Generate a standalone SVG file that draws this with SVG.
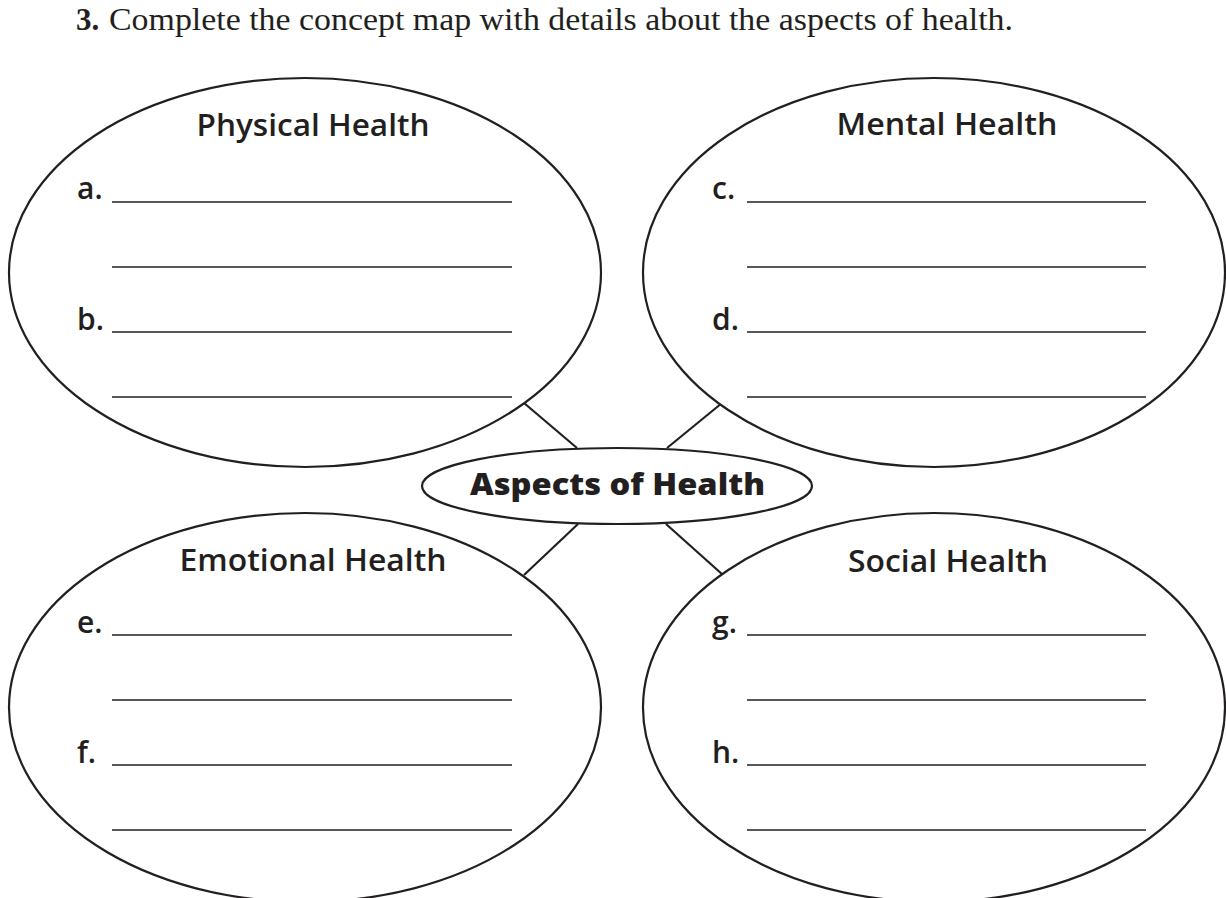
<svg xmlns="http://www.w3.org/2000/svg" width="1226" height="898" viewBox="0 0 1226 898">
  <style>
    .bg { fill: #ffffff; }
    .oval { fill: #ffffff; stroke: #231f20; stroke-width: 2.2; }
    .conn { stroke: #231f20; stroke-width: 2.2; fill: none; }
    .blank { stroke: #231f20; stroke-width: 1.6; }
    .head { font-family: "Open Sans", "Liberation Sans", sans-serif; font-weight: 600; font-size: 31px; fill: #231f20; text-anchor: middle; }
    .lab { font-family: "Open Sans", "Liberation Sans", sans-serif; font-weight: 600; font-size: 30px; fill: #231f20; }
    .center { font-family: "Open Sans", "Liberation Sans", sans-serif; font-weight: 800; font-size: 30px; fill: #231f20; text-anchor: middle; }
    .q { font-family: "Liberation Serif", serif; font-size: 31px; fill: #231f20; }
  </style>
  <rect class="bg" x="0" y="0" width="1226" height="898"/>

  <g id="prompt">
    <text class="q" x="76" y="30" font-weight="bold">3.</text>
    <text class="q" x="109" y="30" textLength="904" lengthAdjust="spacingAndGlyphs">Complete the concept map with details about the aspects of health.</text>
  </g>

  <g id="connectors">
    <line class="conn" x1="524" y1="403" x2="577" y2="448"/>
    <line class="conn" x1="722" y1="403" x2="667" y2="448"/>
    <line class="conn" x1="578" y1="524" x2="524" y2="575"/>
    <line class="conn" x1="666" y1="524" x2="723" y2="575"/>
  </g>

  <g id="physical">
    <ellipse class="oval" cx="305" cy="272.5" rx="296" ry="194.5"/>
    <text class="head" x="313" y="136" textLength="233" lengthAdjust="spacingAndGlyphs">Physical Health</text>
    <text class="lab" x="77" y="199">a.</text>
    <line class="blank" x1="112" y1="202" x2="512" y2="202"/>
    <line class="blank" x1="112" y1="267" x2="512" y2="267"/>
    <text class="lab" x="77" y="330">b.</text>
    <line class="blank" x1="112" y1="332" x2="512" y2="332"/>
    <line class="blank" x1="112" y1="397" x2="512" y2="397"/>
  </g>

  <g id="mental">
    <ellipse class="oval" cx="934" cy="272.5" rx="291" ry="194.5"/>
    <text class="head" x="947" y="135" textLength="221" lengthAdjust="spacingAndGlyphs">Mental Health</text>
    <text class="lab" x="712" y="199">c.</text>
    <line class="blank" x1="747" y1="202" x2="1146" y2="202"/>
    <line class="blank" x1="747" y1="267" x2="1146" y2="267"/>
    <text class="lab" x="712" y="330">d.</text>
    <line class="blank" x1="747" y1="332" x2="1146" y2="332"/>
    <line class="blank" x1="747" y1="397" x2="1146" y2="397"/>
  </g>

  <g id="aspects">
    <ellipse class="oval" cx="617" cy="486" rx="195" ry="38"/>
    <text class="center" x="617.5" y="495" textLength="295" lengthAdjust="spacingAndGlyphs">Aspects of Health</text>
  </g>

  <g id="emotional">
    <ellipse class="oval" cx="305" cy="707.5" rx="296" ry="194.5"/>
    <text class="head" x="313" y="571" textLength="267" lengthAdjust="spacingAndGlyphs">Emotional Health</text>
    <text class="lab" x="77" y="633">e.</text>
    <line class="blank" x1="112" y1="635" x2="512" y2="635"/>
    <line class="blank" x1="112" y1="700" x2="512" y2="700"/>
    <text class="lab" x="77" y="763">f.</text>
    <line class="blank" x1="112" y1="765" x2="512" y2="765"/>
    <line class="blank" x1="112" y1="830" x2="512" y2="830"/>
  </g>

  <g id="social">
    <ellipse class="oval" cx="934" cy="707.5" rx="291" ry="194.5"/>
    <text class="head" x="948" y="572" textLength="200" lengthAdjust="spacingAndGlyphs">Social Health</text>
    <text class="lab" x="712" y="633">g.</text>
    <line class="blank" x1="747" y1="635" x2="1146" y2="635"/>
    <line class="blank" x1="747" y1="700" x2="1146" y2="700"/>
    <text class="lab" x="712" y="763">h.</text>
    <line class="blank" x1="747" y1="765" x2="1146" y2="765"/>
    <line class="blank" x1="747" y1="830" x2="1146" y2="830"/>
  </g>
</svg>
